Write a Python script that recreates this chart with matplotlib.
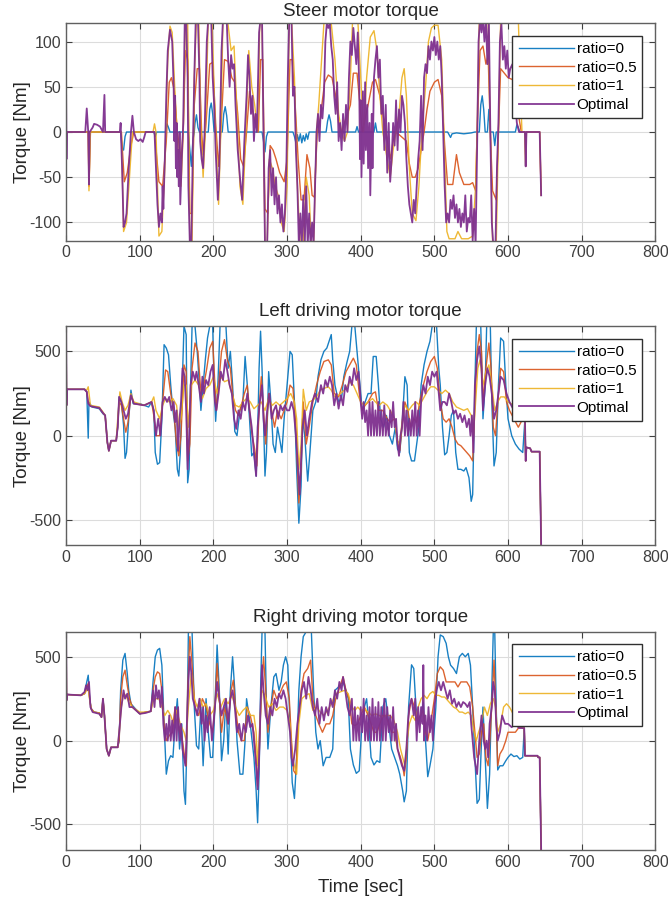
import numpy as np
import matplotlib
matplotlib.use("Agg")
import matplotlib.pyplot as plt

# ---- data (time [s], torque [Nm]) ----
LABELS = ["ratio=0", "ratio=0.5", "ratio=1", "Optimal"]
COLORS = ["#0072BD", "#D95319", "#EDB120", "#7E2F8E"]

STEER_R0 = [(0,0),(74,0),(76,-18),(78,-20),(80,-5),(82,0),(119,0),(121,-5),(123,0),(135,0),(137,9),(139,5),(141,0),
            (166,0),(168,-20),(170,-38),(172,-10),(174,0),(175,10),(177,19),(179,5),(181,0),(193,0),(195,25),(197,32),
            (199,20),(201,0),(212,0),(214,20),(216,28),(218,18),(220,0),(266,0),(268,-10),(270,-22),(272,-5),(274,0),
            (308,0),(310,-5),(312,-12),(314,-3),(316,-10),(318,-2),(320,-12),(322,-4),(324,-10),(326,-2),(328,-8),
            (330,0),(353,0),(355,12),(357,19),(359,12),(361,0),(393,0),(395,6),(397,0),(418,0),(420,10),(422,0),
            (518,0),(520,-3),(522,-6),(524,-2),(530,-1),(540,-2),(550,-1),(555,0),(561,0),(563,30),(565,40),(567,25),
            (569,0),(572,0),(574,25),(576,0),(580,0),(582,-15),(584,0),(610,0),(612,8),(614,5),(616,0),(620,0)]
STEER_R05 = [(0,0),(30,0),(31,-60),(33,0),(75,0),(79,-55),(83,-45),(88,-15),(92,0),(120,0),(126,-55),(131,-60),
             (136,-10),(140,55),(143,60),(147,45),(151,0),(156,-30),(159,0),(162,90),(165,80),(168,-90),(171,-90),
             (174,30),(178,70),(181,70),(184,0),(186,-25),(190,10),(195,75),(199,77),(203,10),(207,-38),(210,0),
             (215,80),(220,78),(225,60),(229,55),(233,20),(237,-30),(241,-38),(245,0),(249,45),(253,25),(257,10),
             (261,0),(264,80),(267,80),(270,-85),(274,-90),(277,-15),(281,-20),(285,-30),(290,-45),(296,-55),
             (300,-30),(304,80),(307,80),(311,30),(315,-30),(319,-75),(323,-75),(327,-25),(331,-40),(334,-70),
             (337,-72),(341,0),(345,15),(351,55),(356,63),(361,60),(366,40),(370,10),(374,0),(386,30),(390,65),
             (395,65),(399,30),(402,0),(410,30),(416,55),(420,58),(426,40),(432,10),(440,-30),(444,-10),(448,0),
             (462,-10),(466,-35),(470,-50),(474,-50),(478,-40),(482,-20),(486,0),(490,25),(494,45),(500,55),
             (505,58),(510,40),(514,-15),(518,-58),(525,-58),(530,-25),(534,-45),(540,-58),(548,-58),(552,-56),
             (556,-65),(558,0),(562,90),(566,95),(570,75),(573,85),(576,0),(579,-65),(584,-75),(587,0),(590,70),
             (600,60),(606,58),(610,45),(614,20),(618,0),(623,0),(624,-38),(625,0),(643,0),(645,-70)]
STEER_R1 = [(0,0),(30,0),(31,-65),(33,0),(75,0),(78,-110),(82,-100),(86,-50),(90,0),(118,0),(120,9),(122,0),
            (126,-115),(130,-110),(134,-40),(138,80),(141,117),(144,110),(148,40),(152,-20),(156,-60),(159,0),
            (162,125),(165,125),(168,-125),(171,-125),(174,60),(177,125),(180,125),(183,0),(186,-50),(189,0),
            (193,125),(198,125),(202,20),(207,-80),(210,0),(213,125),(219,125),(224,90),(228,95),(231,40),
            (236,-60),(240,-80),(244,0),(248,90),(252,50),(256,30),(260,0),(263,125),(266,125),(270,-125),
            (273,-125),(276,-30),(280,-40),(284,-60),(288,-70),(292,-100),(296,-110),(300,-60),(303,125),
            (306,125),(310,60),(314,-60),(318,-125),(322,-125),(326,-50),(330,-70),(333,-125),(336,-125),(340,0),
            (343,30),(350,120),(355,125),(360,120),(365,80),(370,20),(374,0),(378,-10),(382,0),(386,60),(389,125),
            (396,125),(400,60),(404,0),(408,60),(413,105),(418,112),(422,90),(426,40),(430,0),(436,-30),(440,-50),
            (444,-20),(448,0),(452,20),(456,60),(459,70),(462,40),(466,-40),(470,-90),(475,-98),(479,-60),
            (483,0),(488,50),(492,100),(496,115),(500,118),(505,118),(510,80),(514,-30),(517,-110),(520,-118),
            (528,-118),(532,-110),(537,-118),(546,-118),(552,-115),(556,-60),(558,0),(561,125),(573,125),(576,0),
            (579,-120),(584,-125),(587,0),(590,125),(614,125),(617,40),(619,0),(623,0),(624,-38),(625,0),(643,0),
            (645,-70)]
STEER_OPT = [(0,40),(0.5,-30),(1,0),(26,0),(28,26),(30,0),(31,-58),(32,0),(36,5),(38,9),(42,8),(46,6),(48,3),
             (50,0),(52,41),(53,0),(73,0),(74,10),(76,-40),(78,-105),(80,-100),(82,-90),(85,-40),(88,0),(90,18),
             (92,0),(95,-8),(98,-10),(101,-8),(104,-11),(106,-6),(108,0),(120,0),(122,-40),(124,-80),(126,-105),
             (128,-90),(130,-100),(131,-60),(132,-85),(134,-30),(136,40),(138,90),(141,113),(144,100),(146,50),
             (147,-10),(148,40),(149,-40),(150,10),(151,-50),(152,-20),(153,-60),(154,0),(155,-80),(157,-30),
             (159,10),(161,120),(163,125),(165,60),(166,-60),(168,-125),(170,-125),(172,-20),(174,60),(176,125),
             (179,125),(181,60),(182,-10),(184,-30),(186,-40),(188,0),(191,100),(193,125),(197,125),(199,60),
             (201,30),(203,-20),(206,-75),(208,-40),(211,90),(213,125),(218,125),(220,80),(222,50),(224,85),
             (226,70),(228,75),(230,30),(233,-20),(236,-50),(239,-75),(242,-10),(245,40),(247,85),(249,60),(251,20),
             (253,40),(255,-10),(257,20),(259,0),(262,110),(264,125),(266,125),(268,0),(270,-125),(273,-125),
             (275,-40),(277,-20),(279,-70),(281,-40),(283,-80),(285,-50),(287,-90),(289,-70),(291,-100),(293,-80),
             (295,-110),(297,-90),(299,-40),(301,60),(303,125),(306,125),(308,40),(310,50),(312,-20),(314,-60),
             (316,-125),(318,-90),(320,-125),(322,-70),(324,-125),(326,-60),(328,-125),(330,-90),(332,-125),
             (334,-100),(336,-125),(338,-60),(340,0),(342,20),(344,-10),(346,30),(348,15),(350,40),(352,100),
             (354,120),(356,115),(358,120),(360,95),(362,80),(364,40),(366,20),(368,55),(370,-10),(372,10),
             (374,-20),(376,20),(378,-10),(380,30),(382,0),(384,60),(386,100),(388,85),(390,115),(392,95),(394,75),
             (396,110),(398,50),(399,-30),(400,35),(401,-50),(403,45),(404,-35),(406,55),(407,-20),(409,30),
             (410,-40),(412,10),(413,-70),(415,20),(416,-40),(418,60),(420,80),(422,95),(424,60),(426,80),(428,20),
             (430,40),(432,-20),(434,30),(436,-45),(438,10),(440,-55),(442,-30),(444,10),(446,-15),(448,35),
             (450,-20),(452,25),(454,0),(456,40),(458,30),(460,10),(462,-30),(464,-60),(466,-80),(468,-90),
             (470,-100),(472,-75),(474,-90),(476,-60),(478,-30),(480,-10),(482,40),(484,-20),(486,60),(488,75),
             (490,65),(492,95),(494,80),(496,100),(498,90),(500,105),(502,85),(504,100),(506,80),(508,95),(510,60),
             (512,0),(514,-60),(516,-100),(518,-90),(520,-100),(522,-75),(524,-85),(526,-70),(528,-95),(530,-80),
             (532,-100),(534,-85),(536,-105),(538,-90),(540,-100),(542,-70),(544,-110),(546,-95),(548,-100),
             (550,-70),(552,-120),(554,-85),(556,-125),(558,-20),(560,100),(562,125),(564,110),(566,125),(568,100),
             (570,125),(572,75),(574,125),(576,0),(578,-100),(580,-125),(583,-125),(585,-40),(587,10),(589,100),
             (591,120),(593,80),(595,95),(597,70),(599,90),(601,60),(603,70),(606,75),(609,40),(612,10),(615,0),
             (623,0),(624,-38),(625,0),(643,0),(645,-70)]

LEFT_R0 = [(0,650),(0.5,180),(1,275),(25,275),(28,260),(30,-15),(31,200),(35,170),(45,160),(50,130),(53,120),
           (56,-40),(58,-90),(61,-30),(68,-30),(70,50),(72,230),(75,200),(78,60),(80,-135),(82,-100),(85,100),
           (88,270),(91,190),(100,190),(106,180),(112,170),(116,200),(119,150),(121,-100),(124,-170),(127,-160),
           (130,100),(133,540),(136,520),(139,480),(142,300),(145,150),(148,50),(151,-200),(153,-240),(155,-100),
           (157,200),(160,650),(163,600),(165,-280),(167,-200),(169,300),(171,650),(175,650),(178,500),(181,300),
           (183,150),(186,300),(189,450),(192,580),(195,650),(199,650),(201,300),(203,85),(206,300),(209,650),
           (217,650),(220,400),(223,500),(226,300),(229,25),(232,0),(236,150),(240,200),(243,470),(246,300),
           (249,100),(252,-120),(255,-100),(258,-240),(260,0),(262,400),(264,620),(266,400),(268,100),(270,-240),
           (272,-100),(275,380),(278,200),(281,-50),(284,-100),(287,50),(290,-20),(293,-100),(296,100),(300,300),
           (304,500),(307,480),(310,200),(313,-200),(316,-520),(319,-300),(321,100),(324,0),(328,-270),(331,-100),
           (335,150),(339,200),(342,350),(346,450),(350,500),(354,520),(357,560),(360,600),(362,450),(365,300),
           (370,200),(374,220),(377,350),(381,430),(385,500),(388,650),(392,650),(396,450),(399,300),(402,150),
           (406,200),(410,250),(414,250),(417,470),(421,470),(424,300),(427,100),(431,50),(435,120),(439,0),
           (443,-50),(447,50),(450,-80),(453,-100),(456,50),(460,350),(463,300),(466,-100),(469,-150),(473,-150),
           (476,-50),(479,50),(482,300),(486,420),(490,500),(494,560),(497,650),(503,650),(506,400),(508,300),
           (511,50),(514,-114),(517,-100),(520,0),(523,120),(526,150),(529,-100),(532,-200),(536,-200),
           (540,-210),(543,-190),(547,-250),(550,-390),(552,-350),(555,300),(557,650),(563,650),(566,100),
           (569,300),(571,650),(576,650),(578,200),(581,-180),(584,-100),(587,300),(590,580),(594,560),(597,300),
           (600,100),(605,0),(610,-50),(615,-80),(620,-100),(623,100),(624,-150),(625,-70),(630,-75),(632,-95),
           (643,-95),(645,-650)]
LEFT_R05 = [(0,650),(0.5,180),(1,275),(25,275),(28,260),(30,200),(33,175),(45,165),(50,135),(53,120),(56,-40),
            (58,-90),(61,-30),(68,-30),(70,50),(72,200),(75,180),(78,100),(81,20),(84,80),(88,240),(92,190),
            (106,180),(116,200),(119,120),(122,0),(127,0),(131,200),(135,390),(138,380),(142,250),(146,150),
            (150,-50),(153,-120),(156,0),(160,420),(163,380),(165,-150),(168,-50),(171,400),(175,550),(179,500),
            (183,250),(187,300),(191,400),(195,520),(199,560),(202,300),(204,150),(207,300),(211,500),(215,570),
            (219,450),(223,400),(226,250),(230,150),(234,120),(238,180),(242,250),(246,300),(249,150),(252,20),
            (256,-80),(259,-180),(262,150),(265,350),(268,150),(271,-50),(275,250),(279,150),(283,50),(287,150),
            (292,100),(296,150),(300,200),(304,300),(308,280),(312,50),(316,-400),(319,-200),(322,200),(326,-50),
            (330,50),(335,200),(340,300),(345,380),(350,440),(356,450),(360,420),(364,250),(370,230),(375,300),
            (380,380),(385,420),(390,460),(394,420),(398,250),(402,150),(406,180),(410,200),(416,250),(420,260),
            (424,150),(430,150),(436,100),(440,80),(446,100),(450,-40),(453,-90),(456,50),(460,200),(464,150),
            (468,50),(472,100),(476,80),(480,200),(485,300),(490,380),(495,440),(500,470),(504,400),(508,200),
            (512,100),(516,80),(520,100),(524,50),(528,-20),(532,-50),(536,-60),(540,-80),(544,-100),(548,-120),
            (552,-150),(555,200),(558,500),(561,600),(564,500),(566,200),(570,400),(574,550),(577,400),(580,50),
            (583,0),(587,250),(590,400),(594,380),(598,200),(602,150),(608,100),(614,50),(620,100),(623,100),
            (624,-150),(625,-70),(630,-75),(632,-95),(643,-95),(645,-650)]
LEFT_R1 = [(0,650),(0.5,180),(1,275),(25,275),(28,270),(30,290),(33,180),(45,170),(50,140),(53,120),(56,-40),
           (58,-90),(61,-30),(68,-30),(70,100),(73,260),(76,200),(80,150),(84,180),(88,250),(92,200),(106,180),
           (116,200),(119,230),(122,150),(127,100),(131,180),(135,220),(140,200),(145,220),(150,180),(153,50),
           (156,100),(160,300),(163,300),(166,50),(170,300),(175,330),(180,300),(185,220),(190,280),(195,300),
           (200,350),(205,250),(210,350),(215,320),(220,330),(225,250),(230,180),(235,170),(240,200),(245,220),
           (250,200),(255,160),(260,180),(265,200),(270,150),(275,220),(280,180),(285,200),(290,180),(295,200),
           (300,220),(305,250),(310,200),(313,100),(316,-200),(319,-50),(322,275),(326,150),(330,200),(335,210),
           (340,230),(345,270),(350,280),(356,290),(360,270),(365,230),(370,240),(375,260),(380,280),(385,320),
           (390,300),(395,250),(400,200),(405,180),(410,200),(416,220),(420,200),(425,180),(430,200),(436,180),
           (440,150),(446,100),(450,-30),(453,-50),(456,80),(460,180),(465,150),(470,180),(475,200),(480,180),
           (485,220),(490,260),(495,290),(500,290),(505,270),(510,250),(515,270),(520,250),(525,200),(530,170),
           (535,160),(540,150),(545,160),(550,120),(553,0),(556,200),(559,400),(562,450),(566,300),(570,380),
           (574,420),(578,300),(582,150),(586,200),(590,230),(595,230),(600,200),(608,180),(614,150),(620,100),
           (623,100),(624,-150),(625,-70),(630,-75),(632,-95),(643,-95),(645,-650)]
LEFT_OPT = [(0,650),(0.5,180),(1,275),(25,275),(28,260),(30,190),(33,175),(45,165),(50,135),(53,120),(56,-40),
            (58,-90),(61,-30),(68,-30),(70,50),(72,230),(75,200),(78,150),(81,100),(84,130),(88,240),(92,190),
            (106,180),(116,200),(119,150),(122,0),(125,100),(128,0),(131,200),(134,230),(137,200),(140,230),
            (143,150),(146,200),(148,80),(150,150),(152,-90),(154,100),(156,200),(158,400),(161,350),(163,150),
            (165,-200),(167,0),(169,300),(172,380),(175,330),(177,380),(180,300),(183,200),(185,350),(187,250),
            (190,330),(193,300),(196,380),(199,420),(202,200),(204,150),(207,250),(210,380),(213,330),(216,450),
            (219,380),(222,300),(225,250),(228,100),(231,40),(234,150),(237,100),(240,200),(243,150),(246,250),
            (249,150),(252,50),(255,-100),(258,-240),(260,50),(263,200),(266,300),(268,100),(270,0),(273,150),
            (276,250),(279,100),(282,150),(285,180),(288,100),(291,180),(294,150),(297,180),(300,150),(303,150),
            (306,200),(309,150),(312,0),(315,-200),(317,-350),(319,-150),(321,50),(324,150),(327,0),(330,100),
            (334,200),(338,250),(342,200),(346,300),(349,250),(352,330),(355,290),(358,350),(361,300),(364,180),
            (367,250),(370,160),(373,240),(376,180),(379,300),(382,260),(385,350),(388,300),(391,400),(394,330),
            (397,380),(400,200),(402,100),(404,200),(406,80),(408,150),(410,0),(412,200),(414,0),(416,200),
            (418,0),(420,150),(422,0),(424,200),(426,0),(428,150),(430,0),(432,180),(434,0),(436,100),(438,0),
            (440,150),(442,50),(444,200),(446,50),(448,100),(450,-50),(452,-120),(454,0),(456,50),(458,200),
            (460,0),(462,150),(464,0),(466,100),(468,0),(470,150),(472,0),(474,200),(476,0),(478,150),(480,0),
            (482,200),(485,300),(488,250),(491,350),(494,300),(497,380),(500,350),(503,380),(506,250),(508,150),
            (511,200),(514,200),(517,180),(520,250),(523,200),(526,130),(529,150),(532,100),(535,130),(538,80),
            (541,120),(544,50),(547,100),(549,0),(551,120),(553,-100),(555,300),(558,450),(561,530),(564,400),
            (566,150),(569,300),(572,400),(575,350),(578,250),(581,100),(584,150),(587,250),(590,350),(594,330),
            (598,250),(602,200),(608,150),(614,100),(620,100),(623,100),(624,-150),(625,-70),(630,-75),(632,-95),
            (643,-95),(645,-650)]

RIGHT_R0 = [(0,650),(0.5,240),(1,275),(20,270),(25,280),(28,350),(30,390),(32,250),(34,190),(38,170),(45,165),
            (48,140),(50,250),(52,150),(55,-50),(58,-90),(61,-40),(70,-40),(72,0),(74,300),(77,480),(80,520),
            (83,400),(85,300),(88,220),(92,200),(100,160),(108,170),(115,175),(118,350),(121,500),(124,540),
            (127,550),(130,450),(133,100),(136,-200),(139,-120),(142,-90),(145,-100),(148,100),(151,250),(154,-50),
            (157,100),(160,-300),(162,-380),(164,0),(166,650),(171,650),(174,200),(177,-30),(180,-50),(183,200),
            (186,-150),(190,250),(193,50),(196,-100),(199,-100),(202,200),(205,570),(208,300),(211,-120),(214,0),
            (217,250),(220,-80),(223,300),(226,500),(229,300),(232,0),(236,-200),(240,-200),(243,0),(245,250),
            (250,100),(255,-100),(258,-300),(260,-490),(262,-200),(264,300),(266,650),(270,650),(272,200),
            (274,-50),(278,200),(282,380),(285,400),(289,300),(292,350),(295,450),(298,500),(301,450),(304,100),
            (307,-250),(310,-345),(313,-100),(316,300),(319,500),(322,620),(326,650),(333,650),(336,300),(339,50),
            (342,-50),(345,0),(349,-150),(353,-100),(358,-100),(362,-50),(365,300),(370,320),(376,350),(380,300),
            (383,250),(386,-50),(390,-145),(394,-195),(398,-180),(401,50),(405,200),(408,250),(411,100),(414,-100),
            (418,-145),(422,-120),(426,-130),(430,200),(434,250),(438,100),(442,-50),(446,-100),(450,-150),
            (453,-200),(457,-300),(459,-365),(462,-300),(465,200),(469,452),(472,430),(475,200),(478,100),
            (482,150),(485,230),(488,0),(491,-215),(494,-150),(498,-50),(502,200),(505,500),(508,630),(512,620),
            (516,580),(519,500),(522,450),(526,430),(530,400),(534,500),(538,520),(542,500),(546,520),(549,450),
            (552,200),(555,-100),(558,-374),(561,-350),(564,0),(566,200),(569,-100),(572,-404),(575,-200),
            (578,300),(580,650),(582,650),(584,200),(586,-175),(589,-150),(593,-150),(597,-120),(600,-100),
            (604,-80),(608,-95),(612,-90),(616,-110),(620,-100),(622,75),(623,-90),(640,-90),(641,-100),(643,-100),
            (645,-650)]
RIGHT_R05 = [(0,650),(0.5,240),(1,275),(20,270),(25,280),(28,320),(30,340),(32,250),(34,190),(38,170),(45,165),
             (48,140),(50,250),(52,150),(55,-50),(58,-90),(61,-40),(70,-40),(72,0),(74,250),(77,380),(80,420),
             (83,330),(86,250),(90,200),(100,160),(108,170),(115,175),(118,300),(121,380),(124,410),(127,400),
             (130,300),(133,100),(136,0),(140,30),(144,50),(148,200),(151,150),(154,50),(158,0),(161,-100),
             (163,-150),(165,300),(168,620),(171,450),(175,200),(180,150),(185,250),(190,200),(195,100),(199,50),
             (202,200),(205,460),(208,250),(211,50),(215,200),(220,100),(224,300),(227,360),(230,200),(234,50),
             (238,0),(242,0),(246,200),(250,150),(255,50),(258,-100),(260,-270),(262,-100),(265,300),(268,500),
             (271,300),(274,50),(278,200),(282,300),(286,250),(290,280),(295,330),(299,350),(303,250),(306,0),
             (309,-180),(312,-200),(315,100),(319,300),(323,400),(328,430),(332,480),(335,250),(339,150),(343,100),
             (348,50),(353,100),(358,100),(362,150),(366,250),(370,300),(376,380),(380,300),(384,250),(388,100),
             (392,90),(396,100),(400,150),(405,200),(410,150),(414,100),(418,50),(422,50),(426,100),(430,150),
             (434,150),(438,100),(442,50),(446,50),(450,-50),(454,-100),(457,-150),(459,-210),(462,-100),(465,150),
             (469,250),(473,200),(477,120),(481,150),(485,180),(488,50),(491,0),(495,100),(500,250),(504,400),
             (508,440),(512,420),(516,350),(520,350),(524,350),(528,350),(532,320),(536,350),(540,350),(544,350),
             (548,320),(552,200),(555,50),(558,-100),(561,-80),(564,50),(567,100),(570,-100),(573,-150),(576,50),
             (579,300),(581,480),(583,250),(586,-150),(589,-80),(593,-50),(597,0),(600,50),(605,50),(610,50),
             (615,80),(620,75),(622,75),(623,-90),(640,-90),(641,-100),(643,-100),(645,-650)]
RIGHT_R1 = [(0,650),(0.5,240),(1,275),(20,270),(25,280),(28,300),(30,310),(32,240),(34,190),(38,170),(45,165),
            (48,140),(50,250),(52,150),(55,-50),(58,-90),(61,-40),(70,-40),(72,50),(75,200),(78,280),(81,270),
            (85,230),(90,200),(100,170),(108,170),(115,175),(118,230),(122,250),(126,250),(130,200),(134,150),
            (138,180),(142,150),(146,100),(150,180),(155,100),(160,50),(163,0),(166,200),(170,400),(174,250),
            (178,200),(182,250),(186,200),(190,220),(195,150),(200,180),(205,280),(210,200),(215,250),(220,220),
            (225,270),(230,200),(235,150),(240,180),(245,200),(250,150),(255,150),(258,50),(260,-150),(263,100),
            (266,300),(270,270),(275,200),(280,220),(285,180),(290,200),(295,200),(300,180),(304,100),(307,-100),
            (310,-150),(313,-200),(316,100),(320,250),(325,270),(330,280),(335,180),(340,200),(345,170),(350,150),
            (355,180),(360,220),(366,280),(372,290),(378,300),(383,280),(388,200),(392,180),(396,200),(400,180),
            (405,190),(410,170),(415,150),(420,160),(425,150),(430,140),(435,150),(440,150),(445,120),(450,50),
            (454,-50),(457,-100),(460,-150),(463,0),(466,100),(470,150),(474,120),(478,200),(482,250),(486,270),
            (490,250),(494,280),(498,293),(502,270),(506,270),(510,260),(514,260),(518,240),(522,220),(526,200),
            (530,190),(534,170),(538,170),(542,160),(546,170),(550,150),(554,50),(557,0),(560,50),(564,100),
            (568,200),(572,150),(576,220),(580,250),(583,200),(586,50),(590,100),(594,200),(598,220),(602,200),
            (608,150),(614,100),(620,80),(622,75),(623,-90),(640,-90),(641,-100),(643,-100),(645,-650)]
RIGHT_OPT = [(0,650),(0.5,240),(1,275),(20,270),(25,290),(27,330),(29,300),(31,350),(33,200),(36,170),(45,160),
             (48,140),(50,250),(52,150),(55,-50),(58,-90),(61,-40),(70,-40),(72,50),(75,200),(78,300),(80,250),
             (83,280),(86,200),(90,200),(100,160),(108,165),(115,175),(118,300),(120,200),(122,330),(124,250),
             (126,300),(128,200),(130,320),(132,100),(134,0),(136,100),(138,0),(140,150),(142,0),(144,120),(146,0),
             (148,200),(150,0),(152,200),(154,0),(156,100),(158,-50),(160,-100),(162,-150),(164,100),(166,350),
             (168,500),(170,400),(172,250),(175,200),(178,150),(181,250),(184,100),(186,200),(188,0),(190,150),
             (192,50),(195,200),(198,0),(200,100),(203,250),(205,350),(208,250),(211,150),(214,200),(217,250),
             (220,100),(223,250),(226,300),(229,200),(232,50),(235,100),(238,0),(241,100),(244,50),(247,150),
             (250,80),(253,100),(256,-50),(258,-150),(260,-290),(262,-100),(264,200),(266,450),(268,300),(271,150),
             (274,100),(277,200),(280,150),(283,250),(286,200),(289,280),(292,250),(295,300),(298,250),(301,150),
             (304,50),(306,-100),(308,-150),(311,-50),(314,100),(317,200),(320,300),(323,350),(326,250),(329,380),
             (332,300),(335,200),(338,150),(341,250),(344,100),(347,200),(350,120),(353,200),(356,150),(359,250),
             (362,200),(365,300),(368,250),(371,350),(374,300),(376,380),(379,300),(382,200),(385,150),(388,250),
             (390,0),(392,200),(394,0),(396,150),(398,0),(400,200),(402,50),(404,250),(406,0),(408,150),(410,0),
             (412,200),(414,0),(416,250),(418,0),(420,200),(422,0),(424,230),(426,0),(428,200),(430,0),(432,250),
             (434,0),(436,200),(438,50),(440,150),(442,0),(444,200),(446,0),(448,100),(450,-50),(453,-100),
             (456,-150),(459,-180),(462,-50),(464,100),(466,200),(469,250),(472,150),(474,250),(476,0),(478,200),
             (480,50),(482,200),(484,100),(485,450),(486,0),(488,150),(490,0),(492,200),(494,50),(496,150),(498,0),
             (500,200),(503,300),(506,350),(509,300),(512,350),(515,300),(518,250),(521,300),(524,220),(527,250),
             (530,200),(533,230),(536,200),(539,230),(542,220),(545,200),(548,230),(550,100),(552,0),(554,-100),
             (556,-150),(558,-200),(561,0),(564,150),(567,0),(569,-50),(571,0),(573,-100),(575,100),(578,200),
             (580,350),(582,300),(584,100),(586,0),(589,50),(592,150),(596,100),(600,100),(605,80),(610,100),
             (615,75),(620,75),(622,75),(623,-90),(640,-90),(641,-100),(643,-100),(645,-650)]

TITLES = ["Steer motor torque", "Left driving motor torque", "Right driving motor torque"]
YLIMS = [(-120, 120), (-650, 650), (-650, 650)]
YTICKS = [[-100, -50, 0, 50, 100], [-500, 0, 500], [-500, 0, 500]]
XTICKS = [0, 100, 200, 300, 400, 500, 600, 700, 800]

plt.rcParams['font.family'] = ['Liberation Sans', 'DejaVu Sans']
plt.rcParams['axes.unicode_minus'] = False

fig = plt.figure(figsize=(6.68, 9.01), dpi=100)
positions = [[0.099, 0.733, 0.882, 0.241],
             [0.099, 0.395, 0.882, 0.243],
             [0.099, 0.057, 0.882, 0.242]]
panels = [[STEER_R0, STEER_R05, STEER_R1, STEER_OPT],
          [LEFT_R0, LEFT_R05, LEFT_R1, LEFT_OPT],
          [RIGHT_R0, RIGHT_R05, RIGHT_R1, RIGHT_OPT]]

for i, series in enumerate(panels):
    ax = fig.add_axes(positions[i])
    for k, pts in enumerate(series):
        t, v = zip(*pts)
        ax.plot(t, v, color=COLORS[k], lw=1.3 if k == 3 else 1.0,
                label=LABELS[k], alpha=0.9 if k < 3 else 0.95)
    ax.set_xlim(0, 800)
    ax.set_ylim(*YLIMS[i])
    ax.set_xticks(XTICKS)
    ax.set_yticks(YTICKS[i])
    ax.grid(True, color='#dcdcdc', lw=0.8)
    ax.set_axisbelow(True)
    ax.tick_params(direction='in', length=4, top=True, right=True,
                   labelsize=11.5, colors='#404040', width=0.8)
    for s in ax.spines.values():
        s.set_color('#606060')
        s.set_linewidth(1.0)
    ax.set_title(TITLES[i], fontsize=13.5, color='#262626', pad=5 if i == 0 else 7)
    ax.set_ylabel('Torque [Nm]', fontsize=13.5, color='#262626', labelpad=-1)
    leg = ax.legend(loc='upper right', bbox_to_anchor=(0.978, 0.942), fontsize=11,
                    handlelength=3.6, handletextpad=0.2, labelspacing=0.3,
                    borderpad=0.4, fancybox=False, framealpha=1, borderaxespad=0)
    leg.get_frame().set_edgecolor('#303030')
    leg.get_frame().set_linewidth(1.0)
    if i == 2:
        ax.set_xlabel('Time [sec]', fontsize=13.5, color='#262626', labelpad=7)

fig.savefig('out.png', dpi=100)
